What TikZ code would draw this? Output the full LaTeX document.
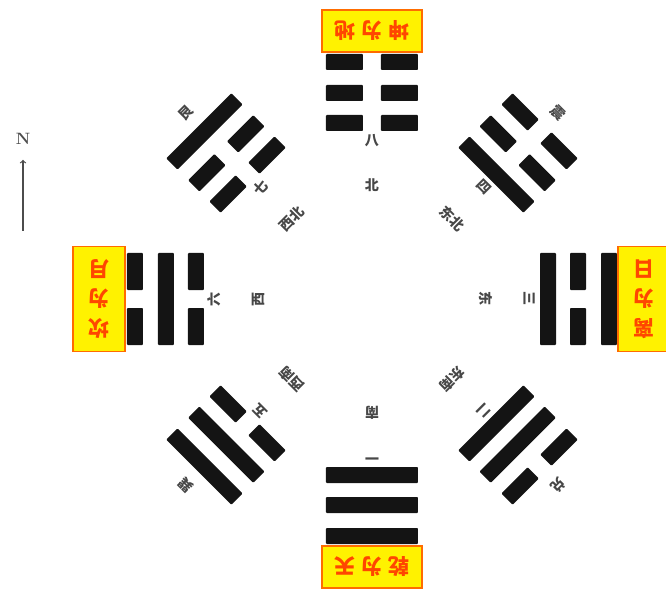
\documentclass[tikz,border=0pt]{standalone}
\usepackage{fontspec}
\newfontfamily\cjk{Noto Sans CJK SC}
\begin{document}
\begin{tikzpicture}[x=0.3mm,y=0.3mm,
  yao/.style={fill=black!92,rounded corners=0.8pt},
  lbl/.style={font=\cjk\bfseries\fontsize{12}{12}\selectfont,text=black!72,inner sep=0pt},
  guabox/.style={draw=orange!85!red,line width=1.6pt,fill=yellow,text=orange!55!red,
    font=\cjk\bfseries\fontsize{18}{25}\selectfont,inner sep=0pt,align=center,rotate=180}]
  \useasboundingbox (-372,-291) rectangle (294,299);
  \foreach \ang/\ya/\yb/\yc/\num/\fx [count=\i] in {90/0/0/0/八/北,45/1/0/0/四/东北,0/1/0/1/三/东,
      -45/1/1/0/二/东南,-90/1/1/1/一/南,-135/0/1/1/五/西南,180/0/1/0/六/西,135/0/0/1/七/西北}{
    \begin{scope}[rotate=\ang-90]
      \foreach \r/\y in {176/\ya,206/\yb,237/\yc}{
        \ifnum\y=1 \fill[yao] (-46,\r-8) rectangle (46,\r+8);
        \else \fill[yao] (-46,\r-8) rectangle (-9,\r+8) (9,\r-8) rectangle (46,\r+8); \fi}
    \end{scope}
    \node[lbl,rotate=\ang-90] (num\i) at (\ang:158) {\num};
    \node[lbl,rotate=\ang-90] (fx\i) at (\ang:114) {\fx};
  }
  \node[guabox,minimum width=30mm,minimum height=12.6mm] (kun) at (0,268) {坤\hspace{0.3em}为\hspace{0.3em}地};
  \node[guabox,minimum width=30mm,minimum height=12.6mm] (qian) at (0,-268) {乾\hspace{0.3em}为\hspace{0.3em}天};
  \node[guabox,minimum width=15.6mm,minimum height=31.5mm] (kan) at (-273,0) {坎\\为\\月};
  \node[guabox,minimum width=15.6mm,minimum height=31.5mm] (li) at (272,0) {离\\为\\日};
  \node[lbl,rotate=45] (gen) at (135:263) {艮};
  \node[lbl,rotate=-45] (zhen) at (45:263) {震};
  \node[lbl,rotate=-135] (dui) at (-45:263) {兑};
  \node[lbl,rotate=135] (xun) at (-135:263) {巽};
  \node[font=\bfseries\fontsize{14}{14}\selectfont,text=black!70,inner sep=0pt] (north) at (-349,160) {N};
  \coordinate (tail) at (-349,68);
  \draw[->,black!70,line width=1pt,shorten >=4.5mm] (tail) -- (north.south);
\end{tikzpicture}
\end{document}
